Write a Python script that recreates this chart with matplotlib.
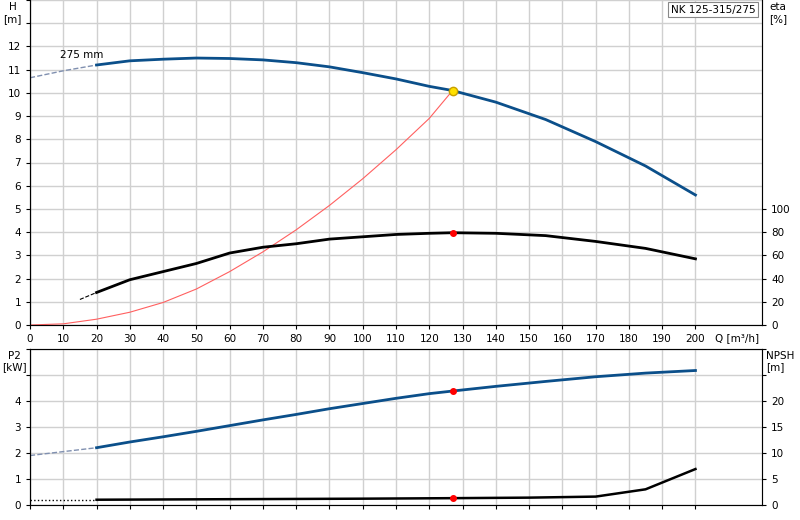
import matplotlib
matplotlib.use("Agg")
import matplotlib.pyplot as plt

q_h_dash = [0, 10, 20]
h_dash = [10.65, 10.95, 11.2]
q_h = [20, 30, 40, 50, 60, 70, 80, 90, 100, 110, 120, 127, 140, 155, 170, 185, 200]
h = [11.2, 11.38, 11.45, 11.5, 11.48, 11.42, 11.3, 11.12, 10.87, 10.6, 10.28, 10.1, 9.6, 8.85, 7.9, 6.85, 5.6]
q_sys = [0, 10, 20, 30, 40, 50, 60, 70, 80, 90, 100, 110, 120, 127]
h_sys = [0, 0.05, 0.25, 0.55, 0.97, 1.55, 2.3, 3.15, 4.1, 5.15, 6.3, 7.55, 8.9, 10.1]
q_eta_dash = [15, 20]
eta_dash = [22, 28]
q_eta = [20, 30, 40, 50, 60, 70, 80, 90, 100, 110, 120, 127, 140, 155, 170, 185, 200]
eta = [28, 39, 46, 53, 62, 67, 70, 74, 76, 78, 79, 79.5, 79, 77, 72, 66, 57]
q_p2_dash = [0, 10, 20]
p2_dash = [1.9, 2.05, 2.2]
q_p2 = [20, 30, 40, 50, 60, 70, 80, 90, 100, 110, 120, 127, 140, 155, 170, 185, 200]
p2 = [2.2, 2.42, 2.62, 2.83, 3.05, 3.27, 3.48, 3.7, 3.9, 4.1, 4.28, 4.38, 4.56, 4.75, 4.93, 5.07, 5.17]
q_npsh_dash = [0, 20]
npsh_dash = [1.0, 1.0]
q_npsh = [20, 60, 100, 127, 150, 170, 185, 200]
npsh = [1.0, 1.1, 1.2, 1.3, 1.4, 1.6, 3.0, 6.9]
q_op = 127
x_ticks = list(range(0, 201, 10))

blue = "#0b4f8a"
grid_c = "#d0d0d0"
fig = plt.figure(figsize=(8, 5.2), dpi=100)
ax = fig.add_axes([0.0375, 0.375, 0.915, 0.625])
ax2 = fig.add_axes([0.0375, 0.029, 0.915, 0.300])

for a in (ax, ax2):
    a.set_xlim(0, 220)
    a.set_xticks(x_ticks)
    a.grid(True, color=grid_c, lw=1)
    a.set_axisbelow(True)
    a.tick_params(labelsize=7.5, length=3, colors="black")
    for s in a.spines.values():
        s.set_color("#777777")
    a.spines["left"].set_color("black")

# top
ax.set_ylim(0, 14)
ax.set_yticks(range(0, 15))
ax.set_yticklabels([str(i) if i <= 12 else "" for i in range(0, 15)])
ax.spines["top"].set_visible(False)
ax.plot(q_h_dash, h_dash, ls="--", color="#8090b0", lw=1)
ax.plot(q_h, h, color=blue, lw=2)
ax.plot(q_sys, h_sys, color="#ff6060", lw=0.8)
axe = ax.twinx()
axe.set_ylim(0, 280)
axe.set_yticks([0, 20, 40, 60, 80, 100])
axe.tick_params(labelsize=7.5, length=3)
axe.spines["right"].set_color("black")
axe.spines["top"].set_visible(False)
axe.plot(q_eta_dash, eta_dash, ls="--", color="black", lw=0.8)
axe.plot(q_eta, eta, color="black", lw=2)
axe.plot([q_op], [eta[q_eta.index(q_op)]], "o", color="red", ms=4)
ax.plot([q_op], [h[q_h.index(q_op)]], "o", mfc="#ffe000", mec="#c8a000", ms=6, zorder=5)
ax.set_xticklabels([str(v) for v in x_ticks])
ax.text(206, -0.55, "Q [m³/h]", fontsize=7.5, va="center", ha="left")
ax.text(9, 11.5, "275 mm", fontsize=7.5)
ax.text(218, 13.8, "NK 125-315/275", fontsize=7.5, ha="right", va="top",
        bbox=dict(boxstyle="square,pad=0.25", fc="white", ec="#888888", lw=0.8))

fig.text(0.016, 0.975, "H\n[m]", fontsize=7.5, ha="center", va="center")
fig.text(0.962, 0.975, "eta\n[%]", fontsize=7.5, ha="left", va="center")
fig.text(0.018, 0.305, "P2\n[kW]", fontsize=7.5, ha="center", va="center")
fig.text(0.958, 0.305, "NPSH\n[m]", fontsize=7.5, ha="left", va="center")

# bottom
ax2.set_ylim(0, 6)
ax2.set_yticks(range(0, 7))
ax2.set_yticklabels([str(i) if i <= 4 else "" for i in range(0, 7)])
ax2.set_xticklabels([])
ax2.plot(q_p2_dash, p2_dash, ls="--", color="#8090b0", lw=1)
ax2.plot(q_p2, p2, color=blue, lw=2)
ax2.plot([q_op], [p2[q_p2.index(q_op)]], "o", color="red", ms=4, zorder=5)
axn = ax2.twinx()
axn.set_ylim(0, 30)
axn.set_yticks(range(0, 31, 5))
axn.set_yticklabels([str(v) if v <= 20 else "" for v in range(0, 31, 5)])
axn.tick_params(labelsize=7.5, length=3)
axn.spines["right"].set_color("black")
axn.plot(q_npsh_dash, npsh_dash, ls=":", color="black", lw=1)
axn.plot(q_npsh, npsh, color="black", lw=1.8)
axn.plot([q_op], [npsh[q_npsh.index(q_op)]], "o", color="red", ms=4, zorder=5)

fig.savefig("out.png", dpi=100)
